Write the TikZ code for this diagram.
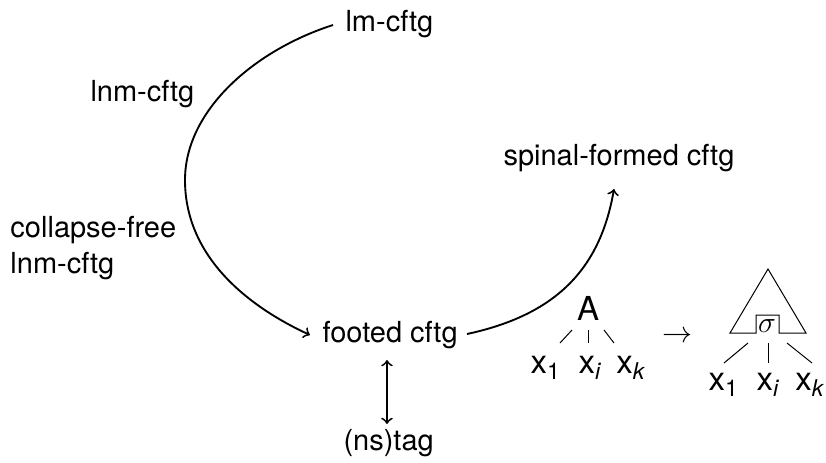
\documentclass[tikz,border=0pt]{standalone}
\usepackage{fontspec}
\setmainfont{TeX Gyre Heros}
\begin{document}
\begin{tikzpicture}[x=0.4pt,y=-0.4pt,
  lab/.style={inner sep=0pt,font=\fontsize{11.6}{13.5}\selectfont},
  tlab/.style={inner sep=0pt,font=\fontsize{13.2}{15}\selectfont},
  conn/.style={line width=0.75pt,->},
  thin/.style={line width=0.4pt}]
\useasboundingbox (0,0) rectangle (826,462);
\node[lab,anchor=base west] (lm) at (345,31) {lm-cftg};
\node[lab,anchor=base west] (lnm) at (90,101) {lnm-cftg};
\node[lab,anchor=base west] (cf) at (10,237) {collapse-free};
\node[lab,anchor=base west] (cf2) at (10,273) {lnm-cftg};
\node[lab,anchor=base west] (sp) at (503,165) {spinal-formed cftg};
\node[lab,anchor=base west] (ft) at (322,342) {footed cftg};
\node[lab,anchor=base west] (ns) at (343,450) {(ns)tag};
\coordinate (lmw) at (333,25);
\coordinate (ftw) at (310,335);
\coordinate (fte) at (467,334);
\coordinate (spt) at (614,189);
\coordinate (dt) at (387,360);
\coordinate (db) at (387,424);
\draw[line width=0.75pt] (lmw) .. controls (255,50) and (185,110) .. (185,180);
\draw[conn] (185,180) .. controls (185,255) and (245,305) .. (ftw);
\draw[conn] (fte) .. controls (555,315) and (600,270) .. (spt);
\draw[line width=0.75pt,<->] (dt) -- (db);
% left tree
\node[tlab,anchor=base] (A) at (588,320) {A};
\node[tlab,anchor=base] (a1) at (546,373) {x\textsubscript{1}};
\node[tlab,anchor=base] (ai) at (590,373) {x\textsubscript{\itshape i}};
\node[tlab,anchor=base] (ak) at (631,373) {x\textsubscript{\itshape k}};
\draw[thin] (560,343) -- (572,330);
\draw[thin] (588,330) -- (588,343);
\draw[thin] (604,330) -- (614,343);
\node[tlab] (to) at (677,337) {$\rightarrow$};
% right tree
\draw[thin] (730,333) -- (768,269) -- (806,333) -- (779,333) -- (779,315) -- (756,315) -- (756,333) -- cycle;
\node[tlab] (sg) at (767,326) {$\sigma$};
\node[tlab,anchor=base] (b1) at (724,390) {x\textsubscript{1}};
\node[tlab,anchor=base] (bi) at (768,390) {x\textsubscript{\itshape i}};
\node[tlab,anchor=base] (bk) at (810,390) {x\textsubscript{\itshape k}};
\draw[thin] (748,343) -- (724,363);
\draw[thin] (768,343) -- (768,363);
\draw[thin] (787,343) -- (812,363);
\end{tikzpicture}
\end{document}
